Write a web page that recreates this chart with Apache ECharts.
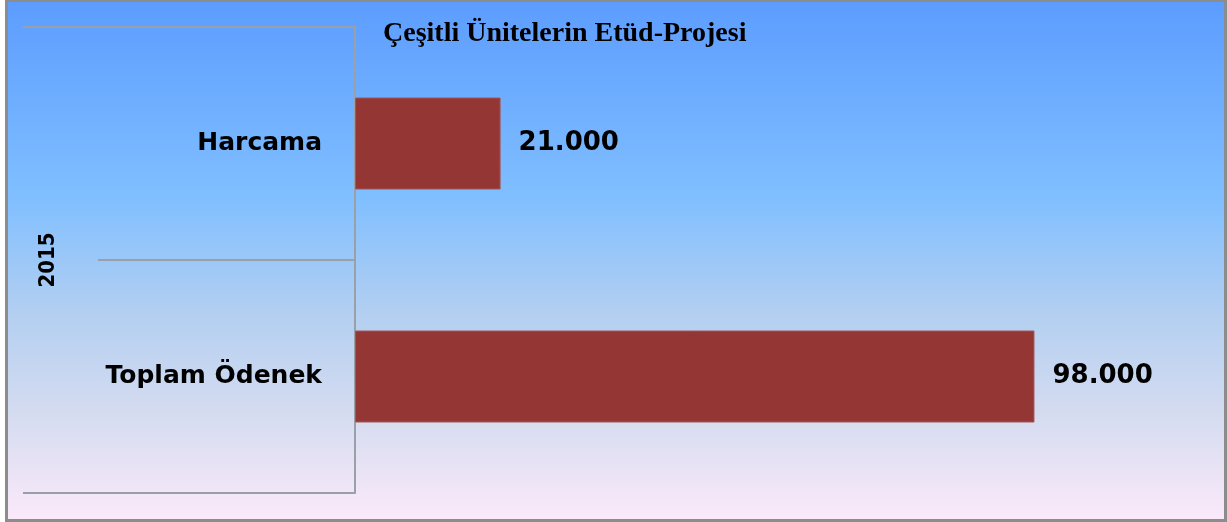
<!DOCTYPE html>
<html>
<head>
<meta charset="utf-8">
<script src="https://cdn.jsdelivr.net/npm/echarts@6/dist/echarts.min.js"></script>
<style>
  html, body { margin: 0; padding: 0; background: #fff; }
</style>
</head>
<body>
<div id="main" style="position:absolute;left:5px;top:0;width:1222px;height:522px;"></div>
<div style="position:absolute;left:5px;top:0;width:1222px;height:522px;box-sizing:border-box;border:3px solid #8c8c8c;border-top-width:2px;pointer-events:none;"></div>
<script>
// veriler
var categories = ['Toplam Ödenek', 'Harcama'];
var values = [98000, 21000];
var groupLabels = ['2015'];
var titleText = 'Çeşitli Ünitelerin Etüd-Projesi';

var chart = echarts.init(document.getElementById('main'));

function fmt (v) { // 21000 -> 21.000
  return String(v).replace(/\B(?=(\d{3})+(?!\d))/g, '.');
}

var option = {
  animation: false,
  backgroundColor: {
    type: 'linear', x: 0, y: 0, x2: 0, y2: 1,
    colorStops: [
      { offset: 0, color: '#5c9cff' },
      { offset: 0.38, color: '#80bfff' },
      { offset: 0.6, color: '#b3cff1' },
      { offset: 0.8, color: '#d6dcf0' },
      { offset: 1, color: '#fceafa' }
    ]
  },
  title: {
    text: titleText,
    left: 373,
    top: 15,
    textStyle: {
      fontFamily: 'Liberation Serif',
      fontWeight: 'bold',
      fontSize: 28,
      color: '#000'
    }
  },
  grid: {
    left: 350,
    right: 40,
    top: 27,
    bottom: 29,
    containLabel: false
  },
  xAxis: {
    type: 'value',
    min: 0,
    max: 120000,
    show: false
  },
  yAxis: [
    {
      type: 'category',
      data: categories,
      position: 'left',
      axisLine: { show: true, lineStyle: { color: '#9aa0a8', width: 2 } },
      axisTick: { show: true, length: 257, lineStyle: { color: '#9aa0a8', width: 2 } },
      axisLabel: {
        margin: 33,
        color: '#000',
        fontFamily: 'DejaVu Sans',
        fontWeight: 'bold',
        fontSize: 25
      },
      splitLine: { show: false }
    },
    {
      type: 'category',
      data: groupLabels,
      position: 'left',
      offset: 0,
      axisLine: { show: false },
      axisTick: { show: true, length: 332, lineStyle: { color: '#9aa0a8', width: 2 } },
      axisLabel: {
        rotate: 90,
        margin: 296,
        color: '#000',
        fontFamily: 'DejaVu Sans Condensed',
        fontWeight: 'bold',
        fontSize: 22
      },
      splitLine: { show: false }
    }
  ],
  series: [
    {
      type: 'bar',
      yAxisIndex: 0,
      data: values,
      barWidth: 92,
      itemStyle: { color: '#943634', borderColor: '#a0575a', borderWidth: 1 },
      label: {
        show: true,
        position: 'right',
        distance: 18,
        color: '#000',
        fontFamily: 'DejaVu Sans',
        fontWeight: 'bold',
        fontSize: 26,
        formatter: function (p) { return fmt(p.value); }
      }
    }
  ]
};

chart.setOption(option);
</script>
</body>
</html>
